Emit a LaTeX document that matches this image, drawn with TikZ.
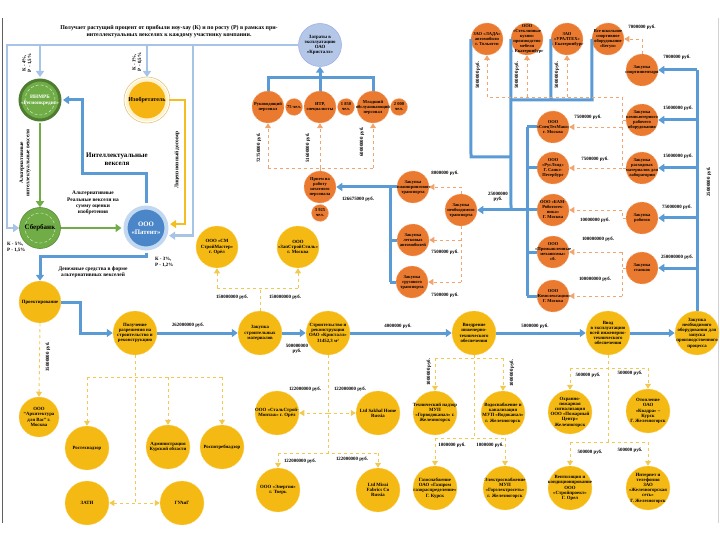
\documentclass[tikz,border=0pt]{standalone}
\usepackage{fontspec}
\setmainfont{Liberation Serif}
\usetikzlibrary{arrows.meta}

\definecolor{ylw}{HTML}{F5B914}
\definecolor{ylwedge}{HTML}{FAD56B}
\definecolor{org}{HTML}{EA7A30}
\definecolor{orgedge}{HTML}{F5B48A}
\definecolor{flow}{HTML}{5B9BD5}
\definecolor{share}{HTML}{A7C3E6}
\definecolor{grn}{HTML}{70AD47}
\definecolor{dkgrn}{HTML}{4E7D31}
\definecolor{patfill}{HTML}{4A86C8}
\definecolor{patring}{HTML}{C2D8F0}
\definecolor{kristfill}{HTML}{B4C7E7}
\definecolor{odsh}{HTML}{F2A46E}
\definecolor{ydsh}{HTML}{F2C94E}
\definecolor{cream}{HTML}{FFF2CC}
\definecolor{tanline}{HTML}{E2C27A}
\definecolor{lic}{HTML}{F5BD1F}

\tikzset{
  ntext/.style={font=\fontsize{4.8}{5.2}\selectfont\bfseries, align=center},
  sum/.style={font=\fontsize{4.9}{5.5}\selectfont\bfseries, inner sep=0pt, align=center},
  note/.style={font=\fontsize{5.4}{6.2}\selectfont\bfseries, inner sep=0pt, align=center},
  ycirc/.style={circle, fill=ylw, draw=ylwedge, densely dashed, line width=0.5pt,
    minimum size=44pt, inner sep=-6pt, ntext},
  ocirc/.style={circle, fill=org, draw=orgedge, densely dashed, line width=0.5pt,
    minimum size=32pt, inner sep=-5pt, ntext, font=\fontsize{4.5}{5}\selectfont\bfseries},
  odot/.style={ocirc, minimum size=17pt},
  inring/.style={path picture={\draw[#1, densely dashed, line width=0.5pt]
    (path picture bounding box.center) circle [radius=15pt];}},
  flowline/.style={draw=flow, line width=3pt},
  flowarr/.style={flowline, -{Triangle[length=6pt,width=8pt]}},
  shareline/.style={draw=share, line width=2.5pt},
  sharearr/.style={shareline, -{Triangle[length=6pt,width=8pt]}},
  greenarr/.style={draw=grn, line width=2.5pt, -{Triangle[length=6pt,width=8pt]}},
  licarr/.style={draw=lic, line width=2pt, -{Triangle[length=6pt,width=8pt]}},
  ydash/.style={draw=ydsh, dashed, line width=0.9pt},
  ydarr/.style={ydash, -{Triangle[length=5pt,width=6pt]}},
  ydboth/.style={ydash, {Triangle[length=5pt,width=6pt]}-{Triangle[length=5pt,width=6pt]}},
  odash/.style={draw=odsh, dashed, line width=0.9pt},
  odarr/.style={odash, -{Triangle[length=5pt,width=6pt]}},
}

\begin{document}
\begin{tikzpicture}[x=1pt, y=-1pt]
\useasboundingbox (0,0) rectangle (720,540);

%-- кромка слайда --
\draw[gray!75!black, line width=0.8pt] (2,18) -- (2,523);
\draw[gray!35, line width=0.6pt] (718,18) -- (718,523);

%-- заголовок --
\node[note, font=\fontsize{5.9}{7}\selectfont\bfseries] (title) at (169,32)
  {Получает растущий процент от прибыли ноу-хау (К) и по росту (Р) в рамках при-\\
   интеллектуальных векселях к каждому участнику компании.};

%-- участники схемы --
\node[circle, fill=grn, draw=dkgrn, line width=3pt, minimum size=40pt, inner sep=0pt,
  inring=white!70!grn, font=\fontsize{5.2}{6}\selectfont\bfseries, text=white, align=center]
  (inmrb) at (40,100) {ИНМРБ\\«Регионкредит»};
\node[circle, fill=ylw!92!orange, draw=cream, line width=3pt, minimum size=40pt, inner sep=0pt,
  font=\fontsize{6}{7}\selectfont\bfseries] (izobr) at (147,100) {Изобретатель};
\draw[tanline, line width=0.6pt] (izobr) circle [radius=23pt];
\node[circle, fill=grn, draw=grn!80!black, line width=0.6pt, minimum size=41pt, inner sep=0pt,
  inring=white!65!grn, font=\fontsize{7}{8}\selectfont\bfseries] (sber) at (40,228) {Сбербанк};
\node[circle, fill=patfill, draw=patring, line width=4pt, minimum size=41pt, inner sep=0pt,
  text=white, align=center, font=\fontsize{6.8}{8}\selectfont\bfseries]
  (patent) at (146,228) {ООО\\«Патент»};
\node[circle, fill=kristfill, draw=kristfill!85!blue, line width=0.5pt, minimum size=43pt,
  inner sep=-5pt, ntext] (krist) at (320,45) {Затраты в\\эксплуатацию\\ОАО\\«Кристалл»};

%-- персонал (оранжевые) --
\node[ocirc] (rukov) at (268,107) {Руководящий\\персонал};
\node[odot]  (rukovN) at (294,107) {75 чел.};
\node[ocirc] (itr) at (320,107) {ИТР,\\специалисты};
\node[odot]  (itrN) at (346,107) {1 850\\чел.};
\node[ocirc] (mlad) at (373,107) {Младший\\обслуживающий\\персонал};
\node[odot]  (mladN) at (399,107) {2 000\\чел.};
\node[ocirc] (priem) at (320,187) {Прием на\\работу\\штатного\\персонала};
\node[odot]  (priemN) at (320,213) {3 925\\чел.};

%-- транспорт --
\node[ocirc] (trEng) at (413,187) {Закупка\\инжинирингового\\транспорта};
\node[ocirc] (trCar) at (413,240) {Закупка\\легковых\\автомобилей};
\node[ocirc] (trTruck) at (412,282) {Закупка\\грузового\\транспорта};
\node[ocirc] (trNeed) at (461,210) {Закупка\\необходимого\\транспорта};

%-- поставщики (верхний ряд) --
\node[ocirc] (supAvto) at (487,39) {ЗАО «ЛАДА»\\автомобили\\г. Тольятти};
\node[ocirc] (supKitchen) at (527,39) {ООО\\«Стеклянные\\кухни»\\производство\\мебели\\г. Екатеринбург};
\node[ocirc] (supUral) at (567,39) {ЗАО\\«УРАЛТЕХ»\\г. Екатеринбург};
\node[ocirc] (supSchool) at (608,39) {Все школьное\\спортивное\\оборудование\\«Бегун»};

%-- фирмы (средний столбец) --
\node[ocirc] (firmSpec) at (553,127) {ООО\\«СпецТехМаш»\\г. Москва};
\node[ocirc] (firmRus) at (553,168) {ООО\\«РусЛэнд»\\Г. Санкт-\\Петербург};
\node[ocirc] (firmBam) at (553,210) {ООО «БАМ-\\Робототех-\\ника»\\Г. Москва};
\node[ocirc] (firmProm) at (553,252) {ООО\\«Промышленные\\механизмы»\\сб.};
\node[ocirc] (firmKompl) at (553,296) {ООО\\«Комплектация»\\Г. Москва};

%-- закупки (правый столбец) --
\node[ocirc] (buySport) at (642,70) {Закупка\\спортинвентаря};
\node[ocirc] (buyComp) at (642,120) {Закупка\\компьютерного\\рабочего\\оборудования};
\node[ocirc] (buyLab) at (642,168) {Закупка\\расходных\\материалов для\\лаборатории};
\node[ocirc] (buyRobot) at (642,218) {Закупка\\роботов};
\node[ocirc] (buyMach) at (642,268) {Закупка\\станков};

%-- основная цепочка (жёлтые) --
\node[ycirc, minimum size=42pt] (proekt) at (40,302) {Проектирование};
\node[ycirc] (razr) at (135,333) {Получение\\разрешения на\\строительство и\\реконструкцию};
\node[ycirc] (zakmat) at (260,333) {Закупка\\строительных\\материалов};
\node[ycirc] (stroi) at (328,333) {Строительство и\\реконструкция\\ОАО «Кристалл»\\31452,3 м²};
\node[ycirc] (vnedr) at (474,333) {Внедрение\\инженерно-\\технического\\обеспечения};
\node[ycirc] (vvod) at (608,333) {Ввод\\в эксплуатацию\\всей инженерно-\\технического\\обеспечения};
\node[ycirc] (zakob) at (697,333) {Закупка\\необходимого\\оборудования для\\запуска\\производственного\\процесса};

%-- подрядчики (жёлтые) --
\node[ycirc, minimum size=42pt] (smStroi) at (217,247) {ООО «СМ\\СтройМастер»\\г. Орёл};
\node[ycirc, minimum size=42pt] (zapStil) at (298,247) {ООО\\«ЗапСтройСтиль»\\г. Москва};
\node[ycirc, minimum size=40pt] (arch) at (39,417) {ООО\\“Архитектура\\для Вас” г.\\Москва};
\node[ycirc] (rtn) at (87,448) {Ростехнадзор};
\node[ycirc] (adm) at (168,447) {Администрация\\Курской области};
\node[ycirc] (rpn) at (222,447) {Роспотребнадзор};
\node[ycirc] (zati) at (87,503) {ЗАТИ};
\node[ycirc] (guaig) at (182,503) {ГУАиГ};
\node[ycirc] (stalMont) at (277,413) {ООО «СтальСтрой-\\Монтаж» г. Орёл};
\node[ycirc] (sakhal) at (378,413) {Ltd Sakhal Home\\Russia};
\node[ycirc] (energ) at (278,490) {ООО «Энергия»\\г. Тверь};
\node[ycirc] (mirai) at (378,490) {Ltd Mirai\\Fabrics Co\\Russia};
\node[ycirc] (tehNadz) at (435,413) {Технический надзор\\МУП\\«Горводоканал» г.\\Железногорск};
\node[ycirc] (vodKan) at (503,413) {Водоснабжение и\\канализация\\МУП «Водоканал»\\г. Железногорск};
\node[ycirc] (gazSn) at (435,488) {Газоснабжение\\ОАО «Газпром\\газораспределение»\\Г. Курск};
\node[ycirc] (elSn) at (505,488) {Электроснабжение\\МУП\\«Горэлектросеть»\\г. Железногорск};
\node[ycirc] (ohrana) at (570,412) {Охранно-\\пожарная\\сигнализация\\ООО «Пожарный\\Центр»\\Железногорск};
\node[ycirc] (otopl) at (648,411) {Отопление\\ОАО\\«Квадра» –\\Курск\\Г. Железногорск};
\node[ycirc] (ventil) at (570,488) {Вентиляция и\\кондиционирование\\ООО\\«Стройпроект»\\Г. Орел};
\node[ycirc] (inet) at (648,488) {Интернет и\\телефония\\ЗАО\\«Железногорская\\сеть»\\Г. Железногорск};

%-- доли К и Р --
\draw[sharearr] (krist.west) -- (7,45) |- (sber.west);
\draw[sharearr, shorten >=1.5pt] (40,45) -- (inmrb.north);
\draw[sharearr, shorten >=1.5pt] (147,45) -- (izobr.north);
\draw[sharearr, shorten >=2pt] (193,45) |- (patent.-20);
\node[sum, rotate=90] (kInmrb) at (27,63) {К - 4\%,\\Р - 1,5\%};
\node[sum, rotate=90] (kIzobr) at (137,62) {К - 1\%,\\Р - 0,5\%};
\node[sum, anchor=west, align=left] (kSber) at (7,247) {К - 5\%,\\Р - 1,5\%};
\node[sum, anchor=west, align=left] (kPatent) at (155,262) {К - 3\%,\\Р - 1,2\%};

%-- векселя между участниками --
\draw[greenarr, shorten <=1.5pt] (inmrb.south) -- (sber.north);
\draw[greenarr, shorten >=2pt] (sber.east) -- (patent.west);
\draw[flowarr, shorten <=2pt, shorten >=1.5pt] (patent.north) -- (146,174) -- (82,174) |- (inmrb.east);
\draw[licarr, shorten >=2pt] (izobr.east) -- (185,100) |- (patent.10);
\node[note, rotate=90] (altIntel) at (25,163) {Альтернативные\\интеллектуальные векселя};
\node[note] (altReal) at (93,203) {Альтернативные\\Реальные векселя на\\сумму оценки\\изобретения};
\node[font=\fontsize{7}{8.2}\selectfont\bfseries, align=center, inner sep=0pt]
  (intelLbl) at (117,159) {Интеллектуальные\\векселя};
\node[note, rotate=90] (licLbl) at (177,160) {Лицензионный договор};

%-- деньги на проектирование --
\draw[flowarr, shorten <=2pt] (patent.south) -- (146,256) -- (40,256) -- (proekt.north);
\node[note] (denLbl) at (93,272) {Денежные средства в форме\\альтернативных векселей};

%-- основная цепочка --
\draw[flowarr] (proekt.east) -- (80,302) |- (razr.west);
\draw[flowarr] (razr.east) -- (zakmat.west);
\draw[flowarr] (zakmat.east) -- (stroi.west);
\draw[flowarr] (stroi.east) -- (vnedr.west);
\draw[flowarr] (vnedr.east) -- (vvod.west);
\draw[flowarr] (vvod.east) -- (zakob.west);

%-- эксплуатация ОАО «Кристалл» --
\draw[flowarr] (320,78) -- (krist.south);
\draw[flowline] (rukov.north) -- (268,78) -- (373,78) -- (mlad.north);
\draw[flowline] (itr.north) -- (320,78);
\coordinate (staffRow) at (0,168);
\draw[odash] (priem.north) -- (priem.north |- staffRow);
\draw[odash] (rukov.south |- staffRow) -- (mlad.south |- staffRow);
\foreach \n in {rukov,itr,mlad}
  \draw[odarr] (\n.south |- staffRow) -- (\n.south);

%-- транспорт -> прием персонала --
\coordinate (trBus) at (390,0);
\draw[flowline] (trBus |- trEng.west) -- (trBus |- trTruck.west);
\foreach \n in {trEng,trCar,trTruck}
  \draw[flowline] (trBus |- \n.west) -- (\n.west);
\draw[flowarr] (trBus |- trEng.west) -- (priem.east);
\draw[odarr] (trNeed.north) |- (trEng.east);
\draw[odash] (trNeed.south) -- (trNeed.south |- trTruck.east);
\draw[odarr] (trNeed.south |- trCar.east) -- (trCar.east);
\draw[odarr] (trNeed.south |- trTruck.east) -- (trTruck.east);

%-- поставщики и фирмы --
\draw[flowline] (supAvto.west) -- (471,157) -- (511,157);
\draw[flowline] (supKitchen.west) -- (511,210);
\draw[flowline] (supUral.west) -- (551,100);
\draw[flowline] (supSchool.west) -- (592,100) -- (511,100);
\coordinate (firmBus) at (527,0);
\draw[flowline] (firmBus |- firmSpec.west) -- (firmBus |- firmKompl.west);
\foreach \n in {firmSpec,firmRus,firmBam,firmProm,firmKompl}
  \draw[flowline] (firmBus |- \n.west) -- (\n.west);
\draw[flowarr] (firmBus |- firmBam.west) -- (trNeed.east);

%-- закупки -> поставщики (пунктир) --
\coordinate (supRow) at (0,97);
\draw[odash] (buyLab.west) -- (622,168) -- (622,97) -- (supAvto.south |- supRow);
\draw[odash] (buyComp.west) -- (622,120);
\foreach \n in {supAvto,supKitchen,supUral}
  \draw[odarr] (\n.south |- supRow) -- (\n.south);
\draw[odarr] (622,127) -- (firmSpec.east);
\draw[odarr] (622,168) -- (firmRus.east);
\draw[odarr] (buySport.north) |- (supSchool.east);
\draw[odarr] (buyRobot.west) -- (622,218) |- (firmBam.east);
\draw[odash] (buyMach.west) -- (622,268);
\draw[odash] (622,252) -- (622,296);
\draw[odarr] (622,252) -- (firmProm.east);
\draw[odarr] (622,296) -- (firmKompl.east);

%-- оборудование -> закупки --
\draw[flowline] (zakob.north) -- (zakob.north |- buySport.east);
\foreach \n in {buySport,buyComp,buyLab,buyRobot,buyMach}
  \draw[flowarr] (zakob.north |- \n.east) -- (\n.east);

%-- подрядчики (жёлтый пунктир) --
\draw[ydarr] (proekt.south) -- (arch.north);
\draw[ydash] (razr.south) -- (135,503);
\draw[ydash] (rtn.north |- 0,377) -- (rpn.north |- 0,377);
\foreach \n in {rtn,adm,rpn}
  \draw[ydarr] (\n.north |- 0,377) -- (\n.north);
\draw[ydboth] (zati.east) -- (guaig.west);
\draw[ydash] (zakmat.north) -- (260,288);
\draw[ydash] (217,288) -- (298,288);
\draw[ydarr] (217,288) -- (smStroi.south);
\draw[ydarr] (298,288) -- (zapStil.south);
\draw[ydash] (stroi.south) -- (328,453);
\draw[ydarr] (328,413) -- (stalMont.east);
\draw[ydarr] (328,413) -- (sakhal.west);
\draw[ydash] (278,453) -- (378,453);
\draw[ydarr] (278,453) -- (energ.north);
\draw[ydarr] (378,453) -- (mirai.north);
\draw[ydash] (vnedr.south) -- (474,438);
\draw[ydash] (435,358) -- (503,358);
\draw[ydarr] (435,358) -- (tehNadz.north);
\draw[ydarr] (503,358) -- (vodKan.north);
\draw[ydash] (435,438) -- (505,438);
\draw[ydarr] (435,438) -- (gazSn.north);
\draw[ydarr] (505,438) -- (elSn.north);
\draw[ydash] (vvod.south) -- (608,442);
\draw[ydash] (570,368) -- (648,368);
\draw[ydarr] (570,368) -- (ohrana.north);
\draw[ydarr] (648,368) -- (otopl.north);
\draw[ydash] (570,442) -- (648,442);
\draw[ydarr] (570,442) -- (ventil.north);
\draw[ydarr] (648,442) -- (inet.north);

%-- суммы --
\foreach \x/\y/\t [count=\i] in {
  188/325/262000000 руб., 398/326/4000000 руб., 535/326/5000000 руб.,
  232/297/150000000 руб., 285/297/150000000 руб.,
  305/389/122000000 руб., 350/389/122000000 руб.,
  300/461/122000000 руб., 352/459/122000000 руб.,
  452/445/1000000 руб., 490/445/1000000 руб.,
  588/375/500000 руб., 630/373/500000 руб., 590/452/500000 руб., 630/450/500000 руб.,
  642/27/7000000 руб., 677/57/7000000 руб., 678/108/15000000 руб., 678/156/15000000 руб.,
  677/207/75000000 руб., 677/257/250000000 руб.,
  588/117/7500000 руб., 595/159/7500000 руб., 595/220/10000000 руб.,
  598/239/100000000 руб., 595/279/100000000 руб.,
  445/173/8000000 руб., 445/252/7500000 руб., 445/295/7500000 руб.,
  358/199/126675000 руб.}
  \node[sum] (sum\i) at (\x,\y) {\t};
\foreach \x/\y/\t [count=\i] in {
  48/357/35000000 руб., 259/148/72750000 руб., 308/148/51600000 руб., 362/142/60000000 руб.,
  429/372/1000000 руб., 512/373/1000000 руб.,
  478/75/5000000 руб., 517/75/5000000 руб., 557/75/5000000 руб.,
  709/182/25000000 руб.}
  \node[sum, rotate=90] (vsum\i) at (\x,\y) {\t};
\node[sum] (sumStroi) at (297,349) {500000000\\руб.};
\node[sum] (sumTrans) at (498,197) {25000000\\руб.};

\end{tikzpicture}
\end{document}
